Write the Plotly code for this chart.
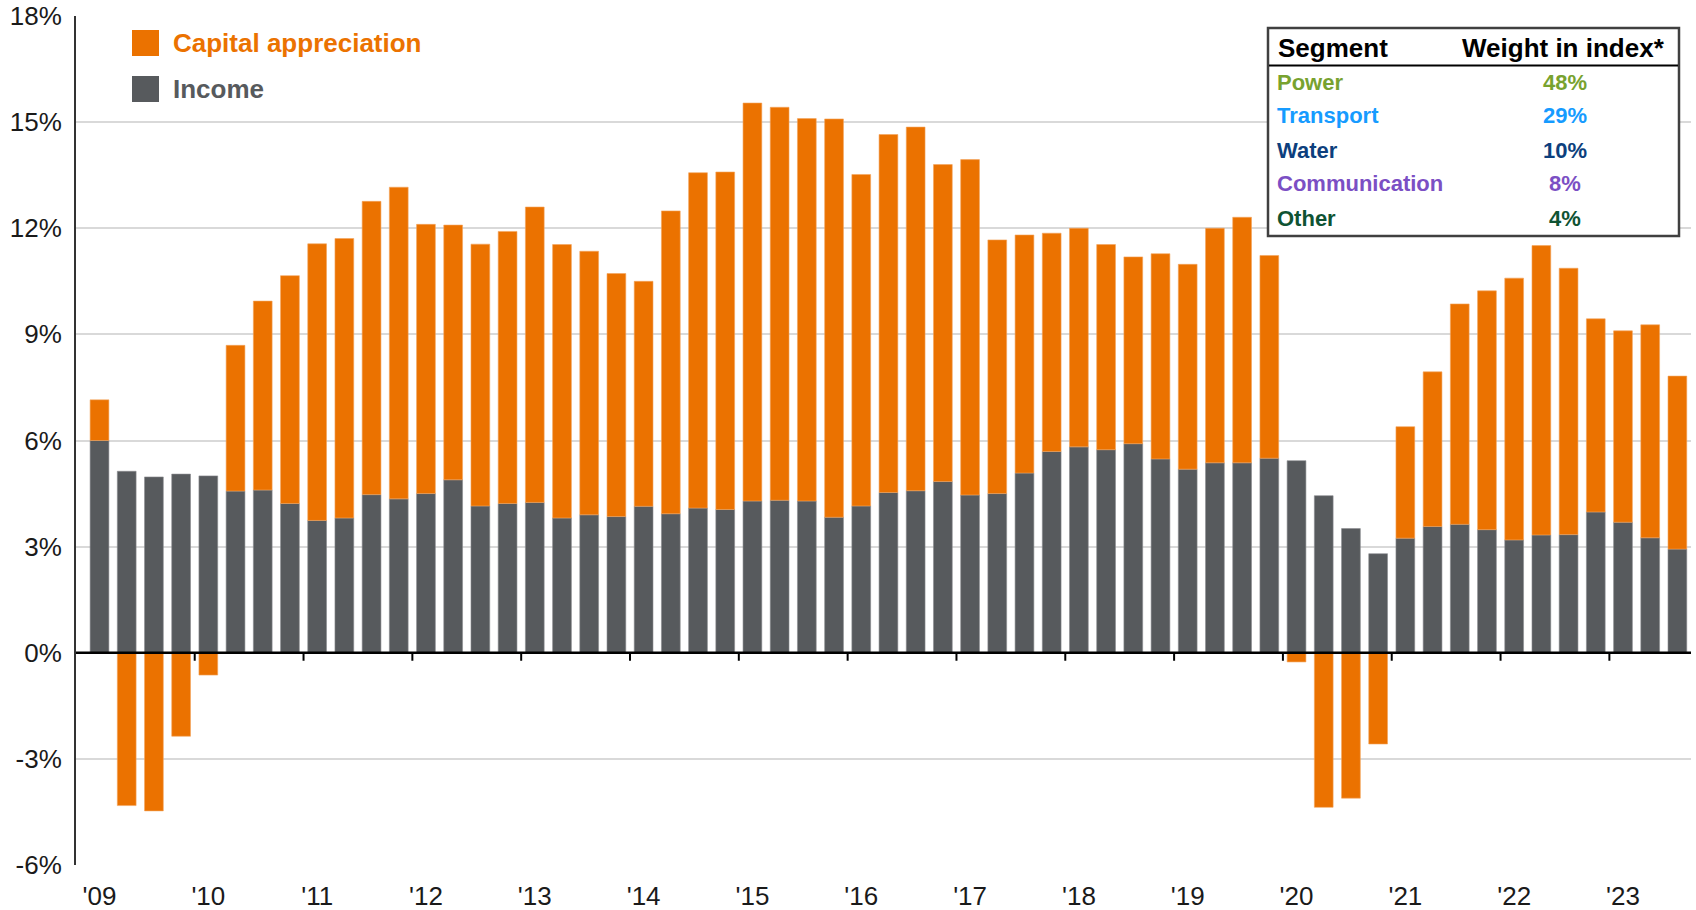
import plotly.graph_objects as go

# Quarterly returns, 1Q09 - 3Q23 (rolling, %)
quarters = [f"{q}Q{yy:02d}" for yy in range(9, 24) for q in range(1, 5)][:59]

income = [6.00, 5.13, 4.97, 5.05, 5.00, 4.57, 4.60, 4.22, 3.74, 3.81,
          4.47, 4.35, 4.50, 4.89, 4.15, 4.22, 4.25, 3.81, 3.90, 3.85,
          4.14, 3.93, 4.09, 4.05, 4.29, 4.31, 4.29, 3.83, 4.15, 4.53,
          4.58, 4.84, 4.46, 4.50, 5.08, 5.69, 5.82, 5.74, 5.91, 5.48,
          5.19, 5.37, 5.37, 5.50, 5.43, 4.44, 3.51, 2.80, 3.24, 3.57,
          3.63, 3.48, 3.19, 3.33, 3.34, 3.98, 3.69, 3.25, 2.93]

capital_appreciation = [1.15, -4.32, -4.47, -2.36, -0.63, 4.12, 5.34, 6.44, 7.82, 7.90,
                        8.29, 8.81, 7.61, 7.20, 7.40, 7.69, 8.35, 7.73, 7.45, 6.87,
                        6.36, 8.56, 9.48, 9.54, 11.25, 11.11, 10.81, 11.26, 9.37, 10.12,
                        10.28, 8.96, 9.48, 7.17, 6.73, 6.17, 6.18, 5.80, 5.28, 5.80,
                        5.79, 6.63, 6.94, 5.73, -0.26, -4.37, -4.11, -2.58, 3.15, 4.37,
                        6.23, 6.75, 7.40, 8.18, 7.53, 5.46, 5.41, 6.02, 4.89]

year_labels = ["'09", "'10", "'11", "'12", "'13", "'14", "'15", "'16",
               "'17", "'18", "'19", "'20", "'21", "'22", "'23"]

y_ticks = [-6, -3, 0, 3, 6, 9, 12, 15, 18]
y_tick_labels = ["-6%", "-3%", "0%", "3%", "6%", "9%", "12%", "15%", "18%"]

segments = ["Power", "Transport", "Water", "Communication", "Other"]
weights = ["48%", "29%", "10%", "8%", "4%"]
segment_colors = ["#78a22f", "#169bff", "#0d3f7d", "#7b4fc4", "#0f5333"]

ORANGE = "#eb7200"
GRAY = "#575a5d"
FONT = "Liberation Sans, Arial, sans-serif"

W, H = 1696, 910
L, R, T, B = 76, 5, 16, 45
PW, PH = W - L - R, H - T - B


def px(x):
    return (x - L) / PW


def py(y):
    return (H - B - y) / PH


fig = go.Figure()
fig.add_trace(go.Bar(x=quarters, y=income, name="Income",
                     marker=dict(color=GRAY, line=dict(color="#8a8c8f", width=0.6))))
fig.add_trace(go.Bar(x=quarters, y=capital_appreciation, name="Capital appreciation",
                     marker=dict(color=ORANGE, line=dict(color="#f3a45c", width=0.6))))

shapes = []
# zero line on top of the bars
shapes.append(dict(type="line", xref="paper", yref="y", x0=0, x1=1, y0=0, y1=0,
                   line=dict(color="black", width=2.5), layer="above"))
# year boundary tick marks hanging from the zero line
for i in range(4, len(quarters), 4):
    shapes.append(dict(type="line", xref="x", yref="y", ysizemode="pixel", yanchor=0,
                       x0=i - 0.5, x1=i - 0.5, y0=0, y1=-8,
                       line=dict(color="black", width=2), layer="above"))

annotations = []
# legend
for (label, color, top) in [("Capital appreciation", ORANGE, 30), ("Income", GRAY, 76)]:
    shapes.append(dict(type="rect", xref="paper", yref="paper",
                       x0=px(132), x1=px(159), y0=py(top + 26), y1=py(top),
                       fillcolor=color, line=dict(width=0)))
    annotations.append(dict(xref="paper", yref="paper", x=px(171), y=py(top + 13),
                            text=f"<b>{label}</b>", showarrow=False, xanchor="left",
                            yanchor="middle", font=dict(family=FONT, size=26, color=color)))

# segment weight table
shapes.append(dict(type="rect", xref="paper", yref="paper",
                   x0=px(1268), x1=px(1679), y0=py(236), y1=py(28),
                   fillcolor="white", line=dict(color="#404040", width=2.5), layer="above"))
shapes.append(dict(type="line", xref="paper", yref="paper",
                   x0=px(1269), x1=px(1678), y0=py(65.5), y1=py(65.5),
                   line=dict(color="black", width=2), layer="above"))
annotations.append(dict(xref="paper", yref="paper", x=px(1276), y=py(48),
                        text="<b>Segment</b>", showarrow=False, xanchor="left", yanchor="middle",
                        font=dict(family=FONT, size=26, color="black")))
annotations.append(dict(xref="paper", yref="paper", x=px(1667), y=py(48),
                        text="<b>Weight in index*</b>", showarrow=False, xanchor="right",
                        yanchor="middle", font=dict(family=FONT, size=26, color="black")))
for k, (seg, wt, col) in enumerate(zip(segments, weights, segment_colors)):
    yc = 82 + k * 34
    annotations.append(dict(xref="paper", yref="paper", x=px(1275), y=py(yc),
                            text=f"<b>{seg}</b>", showarrow=False, xanchor="left",
                            yanchor="middle", font=dict(family=FONT, size=22, color=col)))
    annotations.append(dict(xref="paper", yref="paper", x=px(1565), y=py(yc),
                            text=f"<b>{wt}</b>", showarrow=False, xanchor="center",
                            yanchor="middle", font=dict(family=FONT, size=22, color=col)))

fig.update_layout(
    width=W, height=H,
    margin=dict(l=L, r=R, t=T, b=B, pad=0),
    paper_bgcolor="white", plot_bgcolor="white",
    barmode="relative", bargap=0.31,
    showlegend=False,
    font=dict(family=FONT, size=26, color="#1a1a1a"),
    shapes=shapes, annotations=annotations,
    xaxis=dict(range=[-0.864, 58.5], tickvals=quarters[::4], ticktext=year_labels,
               ticks="", showgrid=False, zeroline=False, showline=False,
               automargin=False, ticklabelstandoff=13,
               tickfont=dict(family=FONT, size=26, color="#1a1a1a")),
    yaxis=dict(range=[-6, 18], tickvals=y_ticks, ticktext=y_tick_labels,
               showgrid=True, gridcolor="#d9d9d9", gridwidth=2,
               zeroline=False, showline=True, linecolor="#333333", linewidth=2,
               ticks="", automargin=False, ticklabelstandoff=7,
               tickfont=dict(family=FONT, size=26, color="#1a1a1a")),
)

fig.write_html("out.html")
